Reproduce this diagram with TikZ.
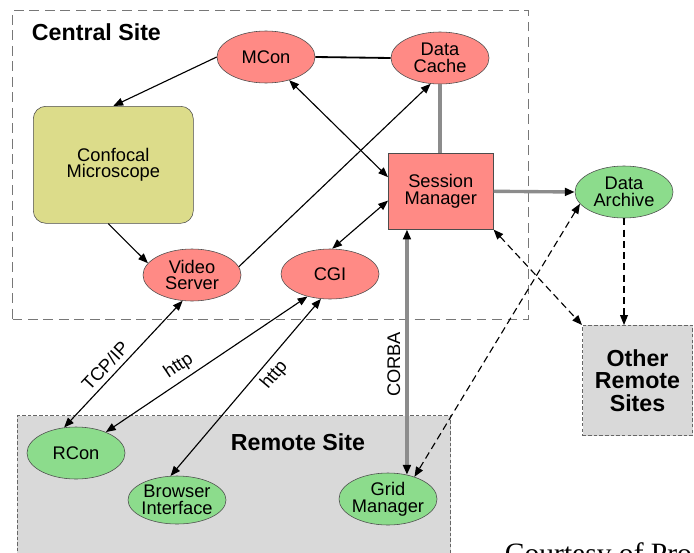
\documentclass[tikz,border=0pt]{standalone}
\usepackage{fontspec}
\setmainfont{Liberation Sans}
\newfontfamily\courtesyfont{Liberation Serif}
\usetikzlibrary{positioning,shapes.geometric,arrows.meta}
\definecolor{centralred}{HTML}{FF8A85}
\definecolor{remotegreen}{HTML}{8CDC8C}
\definecolor{scopeolive}{HTML}{DCDC8A}
\definecolor{remotegray}{HTML}{D9D9D9}
\definecolor{linkgray}{HTML}{8C8C8C}
\definecolor{boxgray}{HTML}{777777}
\newcommand{\nodefont}{\fontsize{13}{12}\selectfont}
\newcommand{\sitefont}{\fontsize{16.5}{16}\selectfont\bfseries}
\newcommand{\tip}{Triangle[length=7pt,width=5.5pt,color=black]}
\tikzstyle{site_box}=[rectangle, draw=boxgray, line width=0.8pt, dash pattern=on 7pt off 4pt, anchor=north west]
\tikzstyle{remote_box}=[rectangle, draw=black!60, line width=0.7pt, dash pattern=on 2.5pt off 1.5pt, fill=remotegray, anchor=north west]
\tikzstyle{site_ellipse}=[ellipse, draw=black!70, minimum width=2.45cm, minimum height=1.3cm, inner xsep=-4pt, inner ysep=0pt, align=center, font=\nodefont]
\tikzstyle{central_ellipse}=[site_ellipse, fill=centralred]
\tikzstyle{remote_ellipse}=[site_ellipse, fill=remotegreen]
\tikzstyle{link}=[draw=black, line width=0.8pt, -{\tip}]
\tikzstyle{link_both}=[link, {\tip}-{\tip}]
\tikzstyle{dashed_link}=[link, dash pattern=on 5pt off 3pt]
\tikzstyle{dashed_link_both}=[link_both, dash pattern=on 5pt off 3pt]
\tikzstyle{thick_link}=[draw=linkgray, line width=2.4pt]
\tikzstyle{link_text}=[font=\nodefont, sloped, inner sep=3.5pt]

\begin{document}
\begin{tikzpicture}[x=0.025cm,y=-0.025cm]

            \useasboundingbox (0,0) rectangle (694,552);

            % Sites
            \node[site_box,minimum width=12.9cm,minimum height=7.725cm] (central_box) at (12,10) {};
            \node[anchor=west,font=\sitefont] (central_label) at (27,32) {Central Site};
            \node[remote_box,minimum width=10.825cm,minimum height=4cm] (remote_box) at (17,415) {};
            \node[font=\sitefont] (remote_label) at (298,442) {Remote Site};
            \node[remote_box,minimum width=2.75cm,minimum height=2.75cm,align=center,anchor=north west,font=\sitefont] (other) at (582,325) {Other\\Remote\\Sites};

            % Central site
            \node[central_ellipse] (mcon) at (266,57) {MCon};
            \node[central_ellipse] (cache) at (440,58) {Data\\Cache};
            \node[rectangle,rounded corners=9pt,draw=black!70,fill=scopeolive,minimum width=4cm,minimum height=2.925cm,align=center,font=\nodefont,anchor=north west] (confocal) at (33,106) {Confocal\\Microscope};
            \node[rectangle,draw=black!70,fill=centralred,minimum width=2.625cm,minimum height=1.9cm,align=center,font=\nodefont,anchor=north west] (session) at (388,153) {Session\\Manager};
            \node[central_ellipse] (video) at (192,275) {Video\\Server};
            \node[central_ellipse,minimum height=1.25cm] (cgi) at (330,274) {CGI};
            \node[remote_ellipse] (archive) at (624,192) {Data\\Archive};

            % Remote site
            \node[remote_ellipse] (rcon) at (76,453) {RCon};
            \node[remote_ellipse,minimum height=1.2cm] (browser) at (177,500) {Browser\\Interface};
            \node[remote_ellipse] (grid) at (388,499) {Grid\\Manager};

            \node[anchor=base west,font=\courtesyfont\fontsize{21}{21}\selectfont] (courtesy) at (500,563) {Courtesy of Pro};

            % Links inside the central site
            \draw[link] (mcon.west) -- (confocal.north);
            \draw[draw=black,line width=1.3pt] (mcon.east) -- (cache.west);
            \draw[thick_link] (cache.south) -- (cache.south |- session.north);
            \draw[link] (confocal.-95) -- (video.165);
            \draw[link] (video.10) -- (cache.-110);
            \draw[link_both] (mcon.-45) -- (session.165);
            \draw[link_both] (cgi.85) -- (session.190);
            \draw[thick_link,-{\tip}] (session.east) -- (archive.west);

            % Links to other sites
            \draw[dashed_link_both] (session.south east) -- (other.north west);
            \draw[dashed_link] (archive.south) -- (archive.south |- other.north);
            \draw[dashed_link_both] (archive.195) -- (grid.40);
            \draw[thick_link,{\tip}-{\tip}] (grid.52) -- (grid.52 |- session.south) node[link_text,pos=.45,above] {CORBA};

            % Links to the remote site
            \draw[link_both] (rcon.115) -- (video.-110) node[link_text,pos=.42,above] {TCP/IP};
            \draw[link_both] (rcon.35) -- (cgi.-135) node[link_text,pos=.4,above] {http};
            \draw[link_both] (browser.105) -- (cgi.-110) node[link_text,pos=.62,below] {http};

        \end{tikzpicture}
\end{document}
